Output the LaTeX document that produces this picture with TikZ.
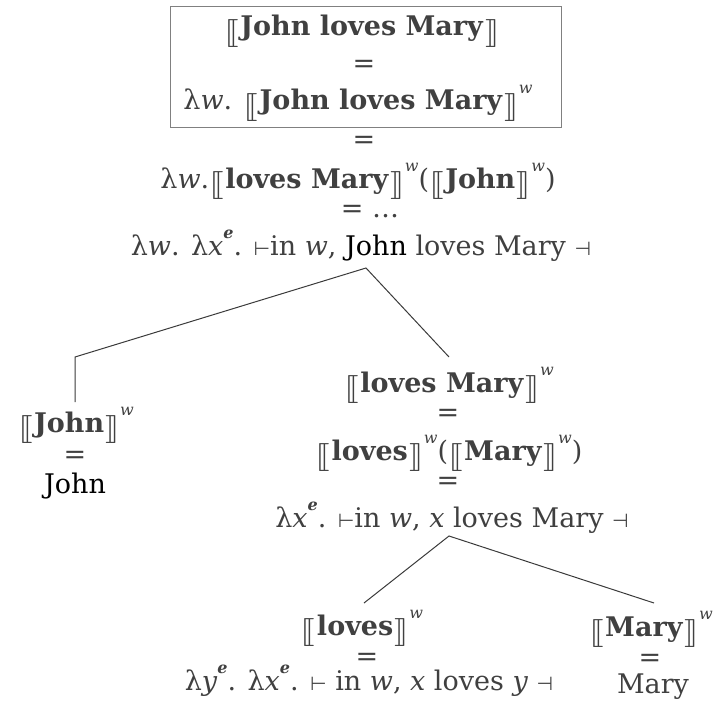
\documentclass[tikz,border=0pt]{standalone}
\usepackage{amsmath,amssymb}
\usepackage{stmaryrd}
\usepackage{graphicx}
\usepackage{fontspec}
\setmainfont{DejaVu Serif}
\newfontfamily\symf{DejaVu Sans}
\definecolor{ink}{HTML}{404040}
\definecolor{rule}{HTML}{3A3A3A}
\newcommand{\lbr}{\raisebox{-0.17em}{\scalebox{1.45}[1.12]{$\llbracket$}}\kern1.5pt}
\newcommand{\rbr}{\kern1.5pt\raisebox{-0.17em}{\scalebox{1.45}[1.12]{$\rrbracket$}}}
\newcommand{\den}[1]{\lbr\textbf{#1}\rbr}
\newcommand{\hi}[1]{\raisebox{0.62em}{\fontsize{16}{16}\selectfont\itshape #1}}
\newcommand{\tv}{{\symf\fontsize{19}{19}\selectfont ⊢}}
\newcommand{\td}{{\symf\fontsize{19}{19}\selectfont ⊣}}
\tikzset{
  txt/.style={inner sep=0pt, anchor=base, text=ink, font=\fontsize{27}{32}\selectfont},
  eq/.style={inner sep=0pt, anchor=center, text=ink, font=\fontsize{27}{32}\selectfont},
  conn/.style={draw=rule, line width=1pt},
  boxline/.style={draw=gray, line width=1pt}
}
\begin{document}
\begin{tikzpicture}[x=1pt,y=-1pt]
\useasboundingbox (0,0) rectangle (720,709);
% top box
\node[txt] (b1) at (362,36) {\den{John loves Mary}};
\node[eq]  (b2) at (364,66) {=};
\node[txt] (b3) at (358,110) {λ\textit{w}. \den{John loves Mary}\hi{w}};
\draw[boxline] (170,7) rectangle (561,127);
% root chain
\node[eq]  (r1) at (364,142) {=};
\node[txt] (r2) at (358,188) {λ\textit{w}.\den{loves Mary}\hi{w}(\den{John}\hi{w})};
\node[eq]  (r3) at (370,212) {= …};
\node[txt] (r4) at (361,255) {λ\textit{w}. λ\textit{x}\hi{\bfseries e}. \tv in \textit{w}, {\color{black}John} loves Mary \td};
% left daughter
\node[txt] (j1) at (76,432) {\den{John}\hi{w}};
\node[eq]  (j2) at (75,457) {=};
\node[txt] (j3) at (75,493) {\color{black}John};
% right daughter
\node[txt] (m1) at (449,392) {\den{loves Mary}\hi{w}};
\node[eq]  (m2) at (448,415) {=};
\node[txt] (m3) at (449,460) {\den{loves}\hi{w}(\den{Mary}\hi{w})};
\node[eq]  (m4) at (448,483) {=};
\node[txt] (m5) at (452,527) {λ\textit{x}\hi{\bfseries e}. \tv in \textit{w}, \textit{x} loves Mary \td};
% bottom left
\node[txt] (l1) at (362,635) {\den{loves}\hi{w}};
\node[eq]  (l2) at (367,659) {=};
\node[txt] (l3) at (369,690) {λ\textit{y}\hi{\bfseries e}. λ\textit{x}\hi{\bfseries e}. \tv\ in \textit{w}, \textit{x} loves \textit{y} \td};
% bottom right
\node[txt] (q1) at (651,636) {\den{Mary}\hi{w}};
\node[eq]  (q2) at (650,660) {=};
\node[txt] (q3) at (653,693) {Mary};
% connectors
\coordinate (top1) at (366,268);
\coordinate (knee) at (75,357);
\coordinate (jtop) at (75,402);
\coordinate (mtop) at (449,357);
\coordinate (top2) at (449,536);
\coordinate (ltop) at (364,603);
\coordinate (qtop) at (654,603);
\draw[conn] (jtop) -- (knee) -- (top1) -- (mtop);
\draw[conn] (ltop) -- (top2) -- (qtop);
\end{tikzpicture}
\end{document}
